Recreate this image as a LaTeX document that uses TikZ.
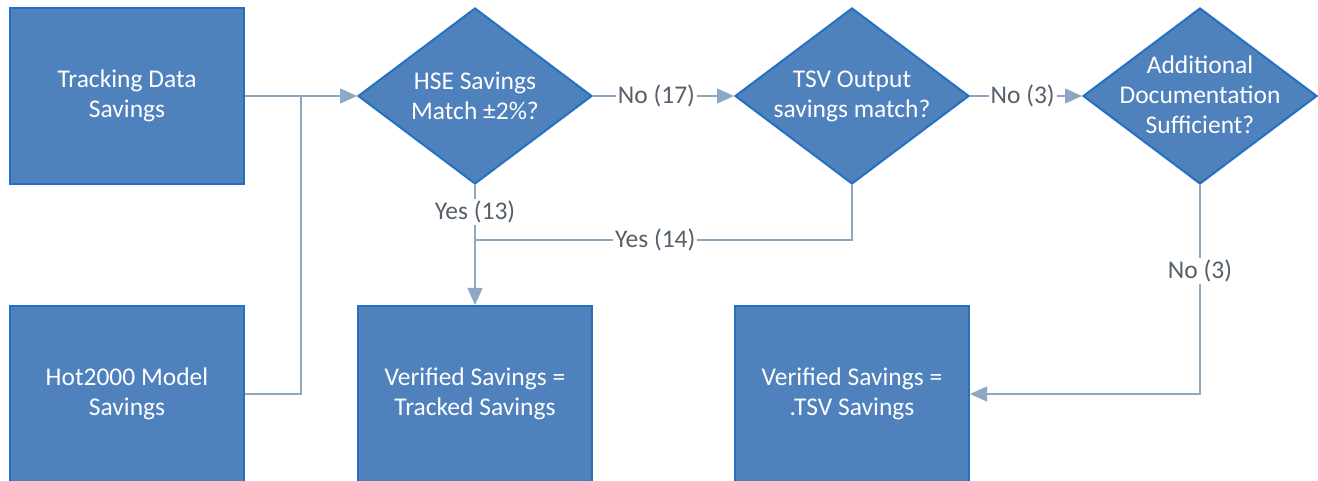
\documentclass[tikz,border=0pt]{standalone}
\usepackage{fontspec}
\setmainfont{Carlito}
\usetikzlibrary{shapes.geometric,arrows.meta}
\definecolor{boxfill}{HTML}{4F81BD}
\definecolor{boxedge}{HTML}{2670C0}
\definecolor{linecol}{HTML}{8DA8C2}
\definecolor{labcol}{HTML}{56606B}
\tikzset{
  procbox/.style={draw=boxedge, line width=2pt, fill=boxfill, minimum width=234pt, minimum height=176pt, inner sep=0pt, text=white, align=center, font=\fontsize{25.5}{30}\selectfont},
  decbox/.style={shape=diamond, draw=boxedge, line width=2pt, fill=boxfill, minimum width=234pt, minimum height=176pt, inner sep=0pt},
  dectext/.style={text=white, align=center, font=\fontsize{25.5}{30}\selectfont},
  conn/.style={draw=linecol, line width=1.3pt},
  arr/.style={conn, -{Triangle[length=17pt,width=15pt]}},
  lab/.style={fill=white, text=labcol, inner sep=2pt, font=\fontsize{25.5}{28}\selectfont},
}
\begin{document}
\begin{tikzpicture}[x=1pt,y=-1pt]
\useasboundingbox (0,0) rectangle (1318,481);
\node[procbox] (track) at (127,96) {Tracking Data\\Savings};
\node[procbox] (hot) at (127,394) {Hot2000 Model\\Savings};
\node[decbox] (hse) at (475,96) {};
\node[dectext] (hset) at (475,96) {HSE Savings\\Match ±2\%?};
\node[decbox] (tsv) at (852,96) {};
\node[dectext] (tsvt) at (852,96) {TSV Output\\savings match?};
\node[decbox] (add) at (1200,96) {};
\node[dectext] (addt) at (1200,95) {Additional\\Documentation\\Sufficient?};
\node[procbox] (vtrack) at (475,394) {Verified Savings =\\Tracked Savings};
\node[procbox] (vtsv) at (852,394) {Verified Savings =\\.TSV Savings};
\coordinate (j1) at (301,96);
\coordinate (j2) at (475,240);
\draw[arr] (track.east) -- (hse.west);
\draw[conn] (hot.east) -| (j1);
\draw[arr] (hse.east) -- node[lab, pos=0.45] (l17) {No (17)} (tsv.west);
\draw[arr] (tsv.east) -- node[lab, pos=0.47] (l3a) {No (3)} (add.west);
\draw[arr] (hse.south) -- (vtrack.north);
\node[lab] (l13) at (475,212) {Yes (13)};
\draw[conn] (tsv.south) |- node[lab, pos=0.761] (l14) {Yes (14)} (j2);
\draw[arr] (add.south) |- node[lab, pos=0.205] (l3b) {No (3)} (vtsv.east);
\end{tikzpicture}
\end{document}
